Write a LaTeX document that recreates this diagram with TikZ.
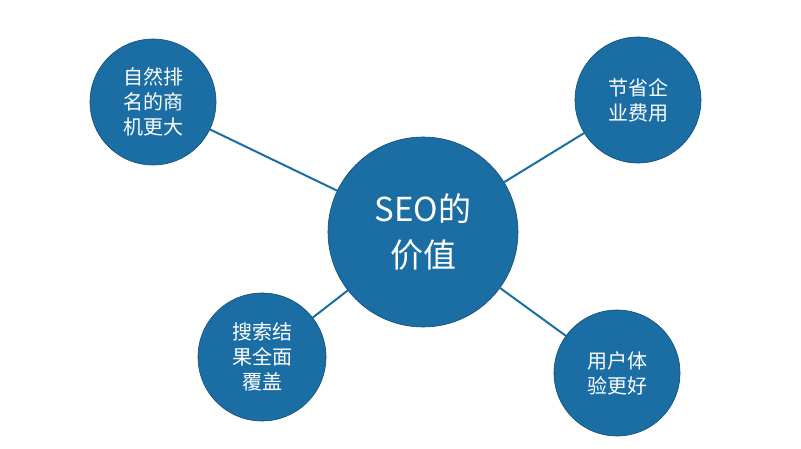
\documentclass[tikz,border=0pt]{standalone}
\usepackage{fontspec}
\newfontfamily\cjk{Noto Sans CJK SC}
\definecolor{seoblue}{RGB}{26,110,163}
\begin{document}
\begin{tikzpicture}[x=1pt,y=-1pt,
  bub/.style={circle,fill=seoblue,draw=seoblue!70!black,line width=0.6pt,text=white,align=center,inner sep=0pt,font=\cjk},
  link/.style={draw=seoblue,line width=2pt}]
\useasboundingbox (0,0) rectangle (801,449);
\fill[white] (0,0) rectangle (801,449);
\node[bub,minimum size=190pt,font=\cjk\fontsize{33}{46}\selectfont] (c) at (423,232) {SEO的\\价值};
\node[bub,minimum size=126pt,font=\cjk\fontsize{20}{25}\selectfont] (tl) at (153,102) {自然排\\名的商\\机更大};
\node[bub,minimum size=126pt,font=\cjk\fontsize{20}{25}\selectfont] (tr) at (638,100) {节省企\\业费用};
\node[bub,minimum size=128pt,font=\cjk\fontsize{20}{25}\selectfont] (bl) at (262,357) {搜索结\\果全面\\覆盖};
\node[bub,minimum size=126pt,font=\cjk\fontsize{20}{25}\selectfont] (br) at (617,373) {用户体\\验更好};
\begin{scope}[on background layer/.style={}]
\end{scope}
\path[link] (tl) -- (c);
\path[link] (tr) -- (c);
\path[link] (bl) -- (c);
\path[link] (br) -- (c);
\end{tikzpicture}
\end{document}
